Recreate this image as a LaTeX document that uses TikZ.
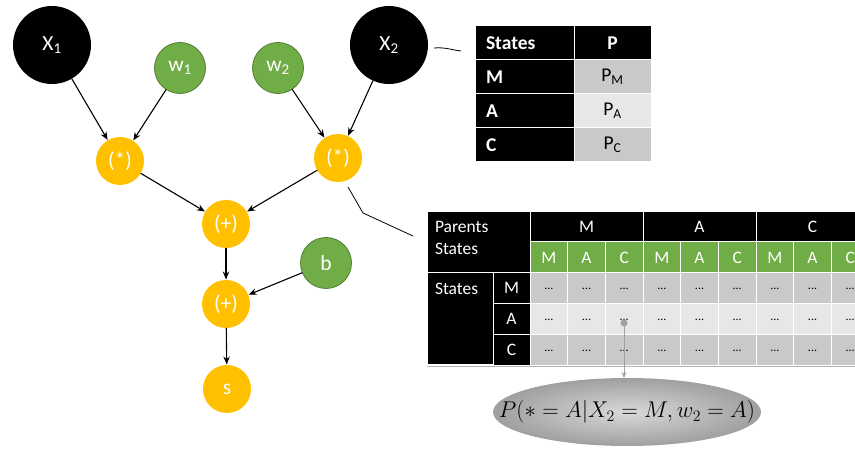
\documentclass[tikz,border=0pt]{standalone}
\usepackage{fontspec}
\setmainfont{Carlito}
\usetikzlibrary{arrows.meta,shapes.geometric}
\definecolor{ygold}{HTML}{FFC000}
\definecolor{wgreen}{HTML}{70AD47}
\definecolor{wgreenb}{HTML}{507E32}
\definecolor{cgray}{HTML}{C9C9C9}
\definecolor{clight}{HTML}{E7E7E7}
\definecolor{dotgray}{HTML}{A0A0A0}
\begin{document}
\begin{tikzpicture}[x=1pt,y=-1pt,
 every node/.style={inner sep=0pt, outer sep=0pt},
 nodefont/.style={font=\fontsize{21.5}{23}\selectfont},
 blackc/.style={circle, fill=black, text=white, minimum size=78pt, nodefont},
 greenc/.style={circle, fill=wgreen, draw=wgreenb, line width=0.8pt, text=white, minimum size=51pt, nodefont},
 yellowc/.style={circle, fill=ygold, text=white, minimum size=48pt, nodefont},
 arr/.style={-{Stealth[length=8pt,width=6.5pt]}, line width=1.1pt, black, shorten >=0.5pt},
 thinline/.style={line width=0.8pt, black},
 cell/.style={rectangle, draw=white, line width=1pt, anchor=north west},
 bcell/.style={cell, fill=black, text=white},
 t1font/.style={font=\fontsize{19.5}{21}\selectfont},
 t1bold/.style={font=\fontsize{19.5}{21}\selectfont\bfseries},
 t2font/.style={font=\fontsize{17.5}{22}\selectfont},
 dotsfont/.style={font=\fontsize{12}{13}\selectfont},
]
\useasboundingbox (0,0) rectangle (855,449);
\clip (0,0) rectangle (855,449);

% ---------- graph ----------
\node[blackc] (x1) at (52,45) {X\textsubscript{1}};
\node[greenc] (w1) at (180,68) {w\textsubscript{1}};
\node[greenc] (w2) at (278,68) {w\textsubscript{2}};
\node[blackc] (x2) at (389,45) {X\textsubscript{2}};
\node[yellowc] (m1) at (120,161) {(*)};
\node[yellowc] (m2) at (338,158) {(*)};
\node[yellowc] (p1) at (226,224) {(+)};
\node[greenc] (b) at (326,263) {b};
\node[yellowc] (p2) at (226,304) {(+)};
\node[yellowc] (s) at (227,389) {s};

\draw[arr] (x1) -- (m1);
\draw[arr] (w1) -- (m1);
\draw[arr] (w2) -- (m2);
\draw[arr] (x2) -- (m2);
\draw[arr] (m1) -- (p1);
\draw[arr] (m2) -- (p1);
\draw[arr] (p1) -- (p2);
\draw[arr] (b) -- (p2);
\draw[arr] (p2) -- (s);

% ---------- table 1 ----------
\node[bcell, minimum width=99pt, minimum height=34pt] (t1h1) at (475,26) {};
\node[bcell, minimum width=77pt, minimum height=34pt, t1bold] (t1h2) at (574,26) {P};
\node[t1bold, text=white, anchor=west] (t1hs) at (486,43) {States};
\foreach \r/\lab/\sub/\col [count=\i] in {60/M/M/cgray, 94/A/A/clight, 128/C/C/cgray}{
  \node[bcell, minimum width=99pt, minimum height=34pt] (t1a\i) at (475,\r) {};
  \node[t1bold, text=white, anchor=west] (t1l\i) at (486,\r+17) {\lab};
  \node[cell, fill=\col, minimum width=77pt, minimum height=34pt, t1font] (t1b\i) at (574,\r) {P\textsubscript{\sub}};
}
\coordinate (c1a) at (434,48);
\coordinate (c1b) at (461,51);
\draw[thinline] (c1a) .. controls (445,47) and (452,50) .. (c1b);

% ---------- table 2 ----------
\draw[gray!60, line width=0.6pt] (427,211) -- (870,211);
\draw[gray!60, line width=0.6pt] (427,366) -- (870,366);
\node[bcell, minimum width=103pt, minimum height=61pt] (ps) at (427,212) {};
\node[t2font, text=white, anchor=north west, align=left] (pst) at (435,221) {Parents\\States};
\foreach \x/\lab [count=\i] in {530/M, 643/A, 756/C}{
  \node[bcell, minimum width=113pt, minimum height=30pt, t2font] (top\i) at (\x,212) {\lab};
}
\foreach \lab [count=\i] in {M,A,C,M,A,C,M,A,C}{
  \pgfmathsetmacro{\xx}{530+(\i-1)*37.67}
  \node[cell, fill=wgreen, text=white, minimum width=37.67pt, minimum height=31pt, t2font] (g\i) at (\xx,242) {\lab};
}
\node[bcell, minimum width=66pt, minimum height=92pt] (st) at (427,273) {};
\node[t2font, text=white, anchor=west] (stt) at (435,289) {States};
\foreach \lab/\col [count=\j] in {M/cgray, A/clight, C/cgray}{
  \pgfmathsetmacro{\yy}{273+(\j-1)*30.67}
  \node[bcell, minimum width=37pt, minimum height=30.67pt, t2font] (rl\j) at (493,\yy) {\lab};
  \foreach \i in {1,...,10}{
    \pgfmathsetmacro{\xx}{530+(\i-1)*37.67}
    \node[cell, fill=\col, minimum width=37.67pt, minimum height=30.67pt, dotsfont] (d\j-\i) at (\xx,\yy) {\raisebox{-3pt}{...}};
  }
}

\coordinate (c2a) at (348,187);
\coordinate (c2b) at (363,213);
\coordinate (c2c) at (413,236);
\draw[thinline] (c2a) -- (c2b) -- (c2c);

% ---------- ellipse ----------
\node[ellipse, minimum width=268pt, minimum height=68pt, inner color=gray!30, outer color=gray!75, shade] (ell) at (627,412) {};
\node[font=\fontsize{20.74}{24}\selectfont] (elltext) at (ell.center) {\scalebox{1.1}{$P(*=A|X_2=M,w_2=A)$}};
\node[circle, fill=dotgray, minimum size=7pt] (dot) at (624,323) {};
\draw[dotgray, line width=1pt, -{Stealth[length=6pt,width=5pt]}] (dot) -- (dot |- ell.north);
\end{tikzpicture}
\end{document}
